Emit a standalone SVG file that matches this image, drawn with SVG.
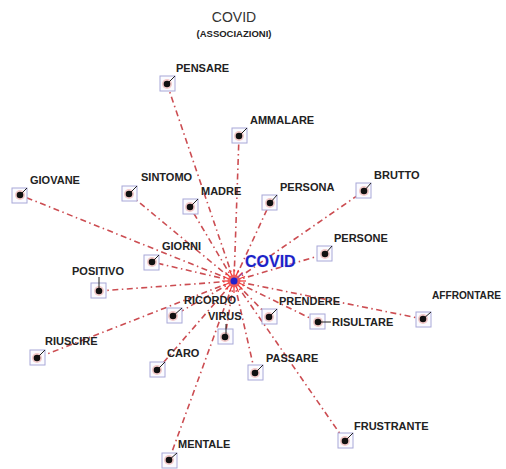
<svg xmlns="http://www.w3.org/2000/svg" width="506" height="469" viewBox="0 0 506 469">
<defs>
<style>
.lnk{stroke:#cc4d52;stroke-width:1.6;stroke-dasharray:6 3.5 1.5 3.5;fill:none}
.sq{fill:#fbfbff;stroke:#a8a8d8;stroke-width:1}
.halo{fill:#f2c9c9}
.dot{fill:#111}
.stk{stroke:#222;stroke-width:1}
.lbl{font-family:"Liberation Sans",Arial,sans-serif;font-weight:bold;font-size:11px;fill:#222}
.burst{stroke:#ee3333;stroke-width:1.2}
</style>
</defs>
<rect width="506" height="469" fill="#ffffff"/>
<text x="234" y="22" text-anchor="middle" font-family="Liberation Sans,Arial,sans-serif" font-size="14" fill="#333">COVID</text>
<text x="234" y="37" text-anchor="middle" font-family="Liberation Sans,Arial,sans-serif" font-size="9.5" font-weight="bold" fill="#222">(ASSOCIAZIONI)</text>
<g id="connectors">
<line class="lnk" x1="234" y1="281" x2="167" y2="84"/>
<line class="lnk" x1="234" y1="281" x2="239" y2="136"/>
<line class="lnk" x1="234" y1="281" x2="20" y2="195"/>
<line class="lnk" x1="234" y1="281" x2="129" y2="194"/>
<line class="lnk" x1="234" y1="281" x2="190" y2="207"/>
<line class="lnk" x1="234" y1="281" x2="270" y2="203"/>
<line class="lnk" x1="234" y1="281" x2="364" y2="191"/>
<line class="lnk" x1="234" y1="281" x2="325" y2="254"/>
<line class="lnk" x1="234" y1="281" x2="152" y2="262"/>
<line class="lnk" x1="234" y1="281" x2="99" y2="291"/>
<line class="lnk" x1="234" y1="281" x2="173" y2="316"/>
<line class="lnk" x1="234" y1="281" x2="225" y2="337"/>
<line class="lnk" x1="234" y1="281" x2="37" y2="358"/>
<line class="lnk" x1="234" y1="281" x2="157" y2="370"/>
<line class="lnk" x1="234" y1="281" x2="269" y2="317"/>
<line class="lnk" x1="234" y1="281" x2="318" y2="322"/>
<line class="lnk" x1="234" y1="281" x2="423" y2="319"/>
<line class="lnk" x1="234" y1="281" x2="255" y2="373"/>
<line class="lnk" x1="234" y1="281" x2="345" y2="441"/>
<line class="lnk" x1="234" y1="281" x2="169" y2="460"/>
</g>
<g id="hub">
<g class="burst" transform="translate(234,281)">
<line x1="-12" y1="0" x2="12" y2="0"/>
<line x1="0" y1="-12" x2="0" y2="12"/>
<line x1="-8.5" y1="-8.5" x2="8.5" y2="8.5"/>
<line x1="-8.5" y1="8.5" x2="8.5" y2="-8.5"/>
<line x1="-11" y1="-4.5" x2="11" y2="4.5"/>
<line x1="-11" y1="4.5" x2="11" y2="-4.5"/>
<line x1="-4.5" y1="-11" x2="4.5" y2="11"/>
<line x1="-4.5" y1="11" x2="4.5" y2="-11"/>
<circle r="6.5" fill="#f25a5a" stroke="none"/>
</g>
<line x1="234" y1="281" x2="243" y2="273" stroke="#7a55cc" stroke-width="1"/>
<circle cx="234" cy="281" r="3.5" fill="#2222cc"/>
<text x="245" y="267" font-family="Liberation Sans,Arial,sans-serif" font-weight="bold" font-size="16" fill="#1c22c8" stroke="#d0d4f4" stroke-width="0.6" paint-order="stroke">COVID</text>
</g>
<g id="n-pensare"><rect class="sq" x="160" y="76" width="15" height="15"/><circle class="halo" cx="167" cy="84" r="5"/><line class="stk" x1="167" y1="84" x2="175" y2="76"/><circle class="dot" cx="167" cy="84" r="3.3"/><text class="lbl" x="176" y="72">PENSARE</text></g>
<g id="n-ammalare"><rect class="sq" x="232" y="128" width="15" height="15"/><circle class="halo" cx="239" cy="136" r="5"/><line class="stk" x1="239" y1="136" x2="247" y2="128"/><circle class="dot" cx="239" cy="136" r="3.3"/><text class="lbl" x="250" y="124">AMMALARE</text></g>
<g id="n-giovane"><rect class="sq" x="12" y="188" width="15" height="15"/><circle class="halo" cx="20" cy="195" r="5"/><line class="stk" x1="20" y1="195" x2="27" y2="188"/><circle class="dot" cx="20" cy="195" r="3.3"/><text class="lbl" x="30" y="184">GIOVANE</text></g>
<g id="n-sintomo"><rect class="sq" x="122" y="186" width="15" height="15"/><circle class="halo" cx="129" cy="194" r="5"/><line class="stk" x1="129" y1="194" x2="137" y2="186"/><circle class="dot" cx="129" cy="194" r="3.3"/><text class="lbl" x="141" y="181">SINTOMO</text></g>
<g id="n-madre"><rect class="sq" x="183" y="199" width="15" height="15"/><circle class="halo" cx="190" cy="207" r="5"/><line class="stk" x1="190" y1="207" x2="198" y2="199"/><circle class="dot" cx="190" cy="207" r="3.3"/><text class="lbl" x="201" y="195">MADRE</text></g>
<g id="n-persona"><rect class="sq" x="262" y="195" width="15" height="15"/><circle class="halo" cx="270" cy="203" r="5"/><line class="stk" x1="270" y1="203" x2="277" y2="195"/><circle class="dot" cx="270" cy="203" r="3.3"/><text class="lbl" x="280" y="191">PERSONA</text></g>
<g id="n-brutto"><rect class="sq" x="356" y="183" width="15" height="15"/><circle class="halo" cx="364" cy="191" r="5"/><line class="stk" x1="364" y1="191" x2="371" y2="183"/><circle class="dot" cx="364" cy="191" r="3.3"/><text class="lbl" x="374" y="179">BRUTTO</text></g>
<g id="n-persone"><rect class="sq" x="317" y="246" width="15" height="15"/><circle class="halo" cx="325" cy="254" r="5"/><line class="stk" x1="325" y1="254" x2="332" y2="246"/><circle class="dot" cx="325" cy="254" r="3.3"/><text class="lbl" x="334" y="242">PERSONE</text></g>
<g id="n-giorni"><rect class="sq" x="144" y="255" width="15" height="15"/><circle class="halo" cx="152" cy="262" r="5"/><line class="stk" x1="152" y1="262" x2="159" y2="255"/><circle class="dot" cx="152" cy="262" r="3.3"/><text class="lbl" x="162" y="250">GIORNI</text></g>
<g id="n-positivo"><rect class="sq" x="91" y="283" width="15" height="15"/><circle class="halo" cx="99" cy="291" r="5"/><line class="stk" x1="99" y1="291" x2="99" y2="277"/><circle class="dot" cx="99" cy="291" r="3.3"/><text class="lbl" x="72" y="275">POSITIVO</text></g>
<g id="n-ricordo"><rect class="sq" x="167" y="308" width="15" height="15"/><circle class="halo" cx="173" cy="316" r="5"/><line class="stk" x1="173" y1="316" x2="182" y2="308"/><circle class="dot" cx="173" cy="316" r="3.3"/><text class="lbl" x="184" y="304">RICORDO</text></g>
<g id="n-virus"><rect class="sq" x="218" y="329" width="15" height="15"/><circle class="halo" cx="225" cy="337" r="5"/><line class="stk" x1="226" y1="337" x2="226" y2="324"/><circle class="dot" cx="225" cy="337" r="3.3"/><text class="lbl" x="208" y="320">VIRUS</text></g>
<g id="n-riuscire"><rect class="sq" x="30" y="350" width="15" height="15"/><circle class="halo" cx="37" cy="358" r="5"/><line class="stk" x1="37" y1="358" x2="45" y2="350"/><circle class="dot" cx="37" cy="358" r="3.3"/><text class="lbl" x="45" y="345">RIUSCIRE</text></g>
<g id="n-caro"><rect class="sq" x="150" y="362" width="15" height="15"/><circle class="halo" cx="157" cy="370" r="5"/><line class="stk" x1="157" y1="370" x2="165" y2="362"/><circle class="dot" cx="157" cy="370" r="3.3"/><text class="lbl" x="167" y="357">CARO</text></g>
<g id="n-prendere"><rect class="sq" x="262" y="309" width="15" height="15"/><circle class="halo" cx="269" cy="317" r="5"/><line class="stk" x1="269" y1="317" x2="277" y2="309"/><circle class="dot" cx="269" cy="317" r="3.3"/><text class="lbl" x="279" y="305">PRENDERE</text></g>
<g id="n-risultare"><rect class="sq" x="310" y="314" width="15" height="15"/><circle class="halo" cx="318" cy="322" r="5"/><line class="stk" x1="318" y1="322" x2="331" y2="322"/><circle class="dot" cx="318" cy="322" r="3.3"/><text class="lbl" x="332" y="326">RISULTARE</text></g>
<g id="n-affrontare"><rect class="sq" x="416" y="312" width="15" height="15"/><circle class="halo" cx="423" cy="319" r="5"/><line class="stk" x1="423" y1="319" x2="431" y2="312"/><circle class="dot" cx="423" cy="319" r="3.3"/><text class="lbl" x="432" y="299" textLength="69" lengthAdjust="spacingAndGlyphs">AFFRONTARE</text></g>
<g id="n-passare"><rect class="sq" x="248" y="365" width="15" height="15"/><circle class="halo" cx="255" cy="373" r="5"/><line class="stk" x1="255" y1="373" x2="263" y2="365"/><circle class="dot" cx="255" cy="373" r="3.3"/><text class="lbl" x="266" y="362">PASSARE</text></g>
<g id="n-frustrante"><rect class="sq" x="338" y="433" width="15" height="15"/><circle class="halo" cx="345" cy="441" r="5"/><line class="stk" x1="345" y1="441" x2="353" y2="433"/><circle class="dot" cx="345" cy="441" r="3.3"/><text class="lbl" x="354" y="430">FRUSTRANTE</text></g>
<g id="n-mentale"><rect class="sq" x="162" y="453" width="15" height="15"/><circle class="halo" cx="169" cy="460" r="5"/><line class="stk" x1="169" y1="460" x2="177" y2="453"/><circle class="dot" cx="169" cy="460" r="3.3"/><text class="lbl" x="178" y="448">MENTALE</text></g>
</svg>
